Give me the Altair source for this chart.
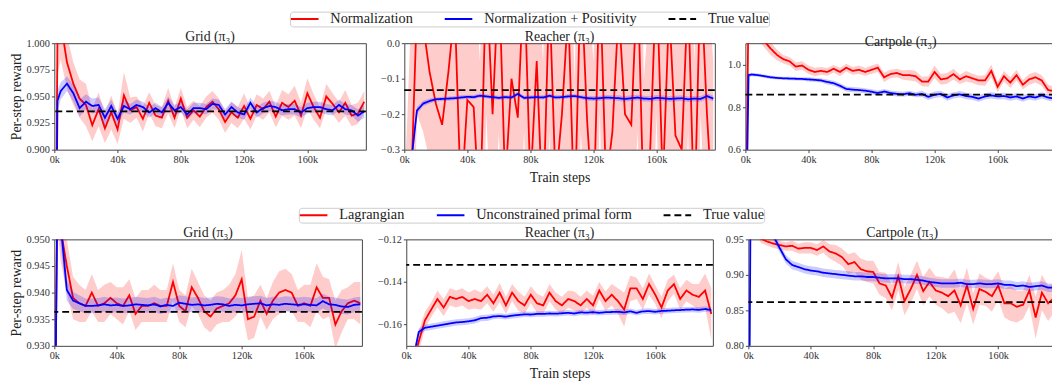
import altair as alt
import pandas as pd

FONT = "Liberation Serif"

X_STEPS = [0, 2000] + list(range(4000, 200000, 4000))
X_MAX = 197000
X_TICKS = [0, 40000, 80000, 120000, 160000]

ROW1_NAMES = ["Normalization", "Normalization + Positivity", "True value"]
ROW2_NAMES = ["Lagrangian", "Unconstrained primal form", "True value"]
PANEL_TITLES = ["Grid (\u03c0\u2083)", "Reacher (\u03c0\u2083)", "Cartpole (\u03c0\u2083)"]

# ---------------- Row 1 ----------------
GRID1_RED = [0.60, 1.01, 1.02,
             0.982, 0.962, 0.948, 0.942, 0.923, 0.938, 0.920, 0.935, 0.919, 0.951, 0.937, 0.940,
             0.929, 0.944, 0.932, 0.930, 0.946, 0.930, 0.948, 0.930, 0.937, 0.931, 0.940, 0.945,
             0.938, 0.926, 0.935, 0.930, 0.941, 0.929, 0.942, 0.938, 0.945, 0.931, 0.944, 0.940,
             0.946, 0.932, 0.953, 0.940, 0.930, 0.950, 0.943, 0.935, 0.944, 0.932, 0.934, 0.945]
GRID1_RED_HW = [0.05, 0.04, 0.035,
                0.025, 0.020, 0.018, 0.020, 0.015, 0.016, 0.014, 0.016, 0.014, 0.022, 0.012, 0.010,
                0.012, 0.010, 0.010, 0.010, 0.012, 0.010, 0.010, 0.010, 0.009, 0.010, 0.010, 0.010,
                0.010, 0.010, 0.010, 0.010, 0.012, 0.010, 0.010, 0.010, 0.010, 0.010, 0.012, 0.012,
                0.014, 0.012, 0.014, 0.012, 0.010, 0.012, 0.010, 0.010, 0.012, 0.010, 0.010, 0.010]
GRID1_BLUE = [0.60, 0.946, 0.955,
              0.962, 0.953, 0.939, 0.945, 0.941, 0.942, 0.930, 0.941, 0.929, 0.941, 0.938, 0.942,
              0.940, 0.935, 0.939, 0.935, 0.944, 0.937, 0.940, 0.933, 0.939, 0.939, 0.938, 0.943,
              0.942, 0.933, 0.940, 0.935, 0.933, 0.944, 0.935, 0.939, 0.941, 0.940, 0.937, 0.938,
              0.938, 0.935, 0.939, 0.940, 0.940, 0.938, 0.937, 0.942, 0.938, 0.937, 0.932, 0.936]
GRID1_BLUE_HW = [0.020, 0.010, 0.008,
                 0.007, 0.008, 0.008, 0.007, 0.007, 0.007, 0.008, 0.006, 0.006, 0.006, 0.005, 0.005,
                 0.005, 0.005, 0.005, 0.005, 0.006, 0.005, 0.005, 0.005, 0.005, 0.005, 0.005, 0.005,
                 0.005, 0.005, 0.005, 0.005, 0.005, 0.005, 0.005, 0.005, 0.005, 0.005, 0.005, 0.005,
                 0.005, 0.005, 0.005, 0.005, 0.005, 0.005, 0.005, 0.005, 0.005, 0.005, 0.006, 0.006]
GRID1_TRUE = 0.936

REACH1_RED = [-0.90, -0.70, -0.45,
              0.10, 0.05, -0.08, -0.17, -0.23, -0.08, 0.10, -0.45, -0.16, -0.18, -0.50, 0.20,
              -0.20, 0.20, -0.40, -0.10, -0.21, 0.20, -0.40, -0.05, -0.50, 0.15, -0.40, -0.20,
              0.10, -0.50, 0.20, -0.22, -0.50, 0.20, -0.40, -0.25, 0.10, -0.20, -0.23, 0.20,
              -0.50, -0.30, 0.20, -0.40, 0.10, -0.26, -0.30, 0.15, -0.50, 0.20, -0.20, -0.50]
REACH1_RED_HW = [0.50, 0.50, 0.50,
                 0.30, 0.30, 0.25, 0.30, 0.35, 0.40, 0.40, 0.45, 0.35, 0.40, 0.45, 0.40,
                 0.40, 0.45, 0.40, 0.35, 0.40, 0.45, 0.40, 0.35, 0.45, 0.40, 0.45, 0.40,
                 0.45, 0.40, 0.45, 0.40, 0.45, 0.40, 0.45, 0.40, 0.40, 0.45, 0.40, 0.45,
                 0.40, 0.45, 0.40, 0.45, 0.40, 0.40, 0.45, 0.40, 0.45, 0.40, 0.40, 0.45]
REACH1_BLUE = [-0.90, -0.60, -0.35,
               -0.190, -0.170, -0.163, -0.158, -0.157, -0.156, -0.155, -0.153, -0.151, -0.152, -0.148, -0.150,
               -0.152, -0.154, -0.152, -0.153, -0.143, -0.154, -0.153, -0.152, -0.153, -0.148, -0.153, -0.152,
               -0.150, -0.149, -0.152, -0.155, -0.156, -0.155, -0.153, -0.154, -0.155, -0.157, -0.155, -0.153,
               -0.156, -0.157, -0.154, -0.155, -0.157, -0.156, -0.155, -0.158, -0.156, -0.157, -0.149, -0.156]
REACH1_BLUE_HW = [0.020, 0.015, 0.012,
                  0.010, 0.008, 0.007, 0.006, 0.006, 0.006, 0.006, 0.006, 0.006, 0.006, 0.006, 0.006,
                  0.006, 0.006, 0.006, 0.006, 0.006, 0.006, 0.006, 0.006, 0.006, 0.006, 0.006, 0.006,
                  0.006, 0.006, 0.006, 0.007, 0.007, 0.007, 0.007, 0.007, 0.008, 0.008, 0.008, 0.008,
                  0.008, 0.008, 0.008, 0.008, 0.008, 0.008, 0.008, 0.008, 0.008, 0.008, 0.008, 0.008]
REACH1_TRUE = -0.132

CART1_RED = [0.00, 1.30, 1.25,
             1.150, 1.110, 1.075, 1.045, 1.025, 1.015, 0.990, 0.995, 0.975, 0.965, 0.970, 0.965,
             0.980, 0.965, 0.985, 0.970, 0.975, 0.965, 0.975, 0.985, 0.940, 0.955, 0.960, 0.950,
             0.950, 0.945, 0.920, 0.920, 0.965, 0.930, 0.935, 0.955, 0.930, 0.945, 0.935, 0.925,
             0.925, 0.970, 0.895, 0.945, 0.915, 0.950, 0.905, 0.930, 0.940, 0.925, 0.880, 0.875]
CART1_RED_HW = [0.050, 0.050, 0.040,
                0.035, 0.030, 0.030, 0.025, 0.020, 0.020, 0.020, 0.020, 0.020, 0.020, 0.018, 0.018,
                0.018, 0.020, 0.018, 0.018, 0.020, 0.018, 0.020, 0.020, 0.022, 0.020, 0.020, 0.022,
                0.025, 0.025, 0.022, 0.025, 0.030, 0.025, 0.025, 0.025, 0.022, 0.025, 0.022, 0.022,
                0.025, 0.030, 0.025, 0.025, 0.025, 0.025, 0.022, 0.025, 0.025, 0.025, 0.025, 0.020]
CART1_BLUE = [0.00, 0.950, 0.953,
              0.950, 0.945, 0.940, 0.937, 0.935, 0.934, 0.933, 0.932, 0.930, 0.928, 0.925, 0.918,
              0.912, 0.900, 0.885, 0.882, 0.880, 0.877, 0.872, 0.866, 0.873, 0.866, 0.862, 0.860,
              0.865, 0.858, 0.862, 0.848, 0.858, 0.862, 0.845, 0.855, 0.860, 0.852, 0.848, 0.840,
              0.850, 0.855, 0.850, 0.852, 0.845, 0.850, 0.840, 0.850, 0.845, 0.855, 0.845, 0.840]
CART1_BLUE_HW = [0.020, 0.010, 0.008,
                 0.008, 0.008, 0.008, 0.008, 0.008, 0.008, 0.008, 0.008, 0.010, 0.010, 0.010, 0.012,
                 0.012, 0.012, 0.012, 0.012, 0.012, 0.012, 0.012, 0.012, 0.012, 0.012, 0.012, 0.012,
                 0.012, 0.012, 0.015, 0.015, 0.015, 0.015, 0.015, 0.015, 0.015, 0.015, 0.015, 0.015,
                 0.015, 0.015, 0.015, 0.015, 0.015, 0.015, 0.015, 0.015, 0.015, 0.015, 0.015, 0.015]
CART1_TRUE = 0.859

# ---------------- Row 2 ----------------
GRID2_RED = [0.900, 0.960, 0.952,
             0.945, 0.939, 0.938, 0.9375, 0.940, 0.9375, 0.938, 0.939, 0.938, 0.9375, 0.9395, 0.936,
             0.9375, 0.9375, 0.938, 0.9375, 0.9375, 0.942, 0.9375, 0.9365, 0.941, 0.939, 0.9365, 0.9355,
             0.937, 0.9375, 0.938, 0.9395, 0.9425, 0.935, 0.9355, 0.9385, 0.936, 0.9385, 0.940, 0.9405,
             0.940, 0.9375, 0.938, 0.9375, 0.941, 0.939, 0.939, 0.934, 0.9365, 0.938, 0.9385, 0.938]
GRID2_RED_HW = [0.010, 0.008, 0.006,
                0.005, 0.004, 0.0035, 0.003, 0.0035, 0.003, 0.0035, 0.003, 0.003, 0.0035, 0.003, 0.003,
                0.003, 0.003, 0.0035, 0.003, 0.003, 0.0035, 0.003, 0.003, 0.0035, 0.003, 0.003, 0.003,
                0.003, 0.003, 0.0035, 0.004, 0.0055, 0.004, 0.004, 0.003, 0.003, 0.0035, 0.004, 0.004,
                0.0035, 0.003, 0.0035, 0.004, 0.0045, 0.004, 0.0035, 0.0045, 0.004, 0.003, 0.0035, 0.004]
GRID2_BLUE = [0.900, 0.960, 0.953,
              0.9405, 0.9385, 0.938, 0.9375, 0.9375, 0.9376, 0.9378, 0.9376, 0.9377, 0.9375, 0.9376, 0.9378,
              0.9377, 0.9376, 0.9378, 0.9374, 0.9377, 0.9375, 0.9381, 0.9379, 0.9377, 0.9378, 0.9376, 0.9377,
              0.9379, 0.9378, 0.9375, 0.9377, 0.9376, 0.9378, 0.9379, 0.9380, 0.9376, 0.9378, 0.9377, 0.9379,
              0.9378, 0.9377, 0.9378, 0.9377, 0.9376, 0.9384, 0.9378, 0.9377, 0.9374, 0.9373, 0.9377, 0.9378]
GRID2_BLUE_HW = [0.010, 0.006, 0.004,
                 0.002, 0.0016, 0.0015, 0.0014, 0.0014, 0.0014, 0.0014, 0.0014, 0.0014, 0.0014, 0.0014, 0.0014,
                 0.0014, 0.0014, 0.0014, 0.0014, 0.0014, 0.0014, 0.0014, 0.0014, 0.0014, 0.0014, 0.0014, 0.0014,
                 0.0014, 0.0014, 0.0014, 0.0014, 0.0014, 0.0014, 0.0014, 0.0014, 0.0014, 0.0014, 0.0014, 0.0014,
                 0.0014, 0.0014, 0.0014, 0.0014, 0.0014, 0.0014, 0.0014, 0.0014, 0.0014, 0.0014, 0.0014, 0.0014]
GRID2_TRUE = 0.9364

REACH2_RED = [-0.200, -0.190, -0.180,
              -0.168, -0.158, -0.153, -0.148, -0.152, -0.147, -0.148, -0.147, -0.149, -0.148, -0.149, -0.146,
              -0.150, -0.145, -0.151, -0.145, -0.149, -0.151, -0.146, -0.150, -0.151, -0.145, -0.149, -0.151,
              -0.148, -0.149, -0.151, -0.148, -0.151, -0.144, -0.149, -0.146, -0.149, -0.153, -0.143, -0.143,
              -0.148, -0.141, -0.146, -0.152, -0.144, -0.141, -0.148, -0.144, -0.146, -0.147, -0.144, -0.155]
REACH2_RED_HW = [0.010, 0.008, 0.006,
                 0.005, 0.004, 0.0035, 0.004, 0.004, 0.004, 0.004, 0.004, 0.004, 0.0045, 0.004, 0.004,
                 0.004, 0.0045, 0.004, 0.004, 0.0045, 0.004, 0.004, 0.0045, 0.004, 0.004, 0.004, 0.004,
                 0.004, 0.0045, 0.004, 0.004, 0.0045, 0.004, 0.0045, 0.005, 0.006, 0.008, 0.006, 0.005,
                 0.005, 0.005, 0.0045, 0.005, 0.005, 0.0045, 0.005, 0.005, 0.005, 0.006, 0.008, 0.012]
REACH2_BLUE = [-0.200, -0.190, -0.178,
               -0.1635, -0.1615, -0.161, -0.1605, -0.160, -0.1595, -0.159, -0.1588, -0.1585, -0.158, -0.157, -0.1568,
               -0.1562, -0.156, -0.1563, -0.1558, -0.1555, -0.1552, -0.1553, -0.155, -0.155, -0.1548, -0.1549, -0.1547,
               -0.1545, -0.1548, -0.1543, -0.1544, -0.1542, -0.1545, -0.1542, -0.1541, -0.154, -0.1543, -0.1538, -0.1545,
               -0.1538, -0.1537, -0.154, -0.1536, -0.1535, -0.1533, -0.1532, -0.153, -0.1529, -0.1531, -0.1527, -0.1532]
REACH2_BLUE_HW = [0.004, 0.003, 0.002,
                  0.0015, 0.0015, 0.0015, 0.0015, 0.0015, 0.0015, 0.0015, 0.0015, 0.0015, 0.0015, 0.0015, 0.0015,
                  0.0013, 0.0013, 0.0013, 0.0013, 0.0013, 0.0013, 0.0013, 0.0013, 0.0013, 0.0013, 0.0013, 0.0013,
                  0.0013, 0.0013, 0.0013, 0.0013, 0.0013, 0.0013, 0.0013, 0.0013, 0.0013, 0.0013, 0.0013, 0.0013,
                  0.0013, 0.0013, 0.0013, 0.0013, 0.0013, 0.0013, 0.0013, 0.0013, 0.0013, 0.0013, 0.0013, 0.0013]
REACH2_TRUE = -0.132

CART2_RED = [1.050, 1.000, 0.970,
             0.951, 0.947, 0.944, 0.942, 0.940, 0.941, 0.937, 0.938, 0.938, 0.935, 0.940, 0.933,
             0.930, 0.925, 0.915, 0.918, 0.908, 0.905, 0.904, 0.888, 0.885, 0.868, 0.898, 0.863,
             0.880, 0.900, 0.877, 0.890, 0.878, 0.875, 0.870, 0.878, 0.857, 0.885, 0.852, 0.880,
             0.876, 0.870, 0.885, 0.860, 0.860, 0.855, 0.858, 0.878, 0.840, 0.875, 0.860, 0.868]
CART2_RED_HW = [0.010, 0.010, 0.008,
                0.006, 0.006, 0.006, 0.006, 0.006, 0.007, 0.007, 0.008, 0.008, 0.008, 0.009, 0.010,
                0.012, 0.012, 0.014, 0.014, 0.015, 0.015, 0.016, 0.016, 0.018, 0.018, 0.020, 0.020,
                0.020, 0.020, 0.020, 0.020, 0.020, 0.022, 0.025, 0.030, 0.025, 0.025, 0.022, 0.022,
                0.020, 0.022, 0.020, 0.020, 0.025, 0.022, 0.020, 0.022, 0.030, 0.025, 0.025, 0.020]
CART2_BLUE = [0.500, 1.200, 1.100,
              1.020, 0.980, 0.955, 0.938, 0.922, 0.914, 0.911, 0.908, 0.906, 0.905, 0.903, 0.902,
              0.901, 0.900, 0.899, 0.898, 0.898, 0.897, 0.897, 0.896, 0.895, 0.895, 0.895, 0.894,
              0.894, 0.893, 0.892, 0.890, 0.889, 0.888, 0.888, 0.888, 0.889, 0.887, 0.887, 0.888,
              0.887, 0.887, 0.888, 0.886, 0.886, 0.884, 0.885, 0.883, 0.884, 0.885, 0.882, 0.882]
CART2_BLUE_HW = [0.010, 0.008, 0.008,
                 0.007, 0.006, 0.006, 0.006, 0.006, 0.006, 0.006, 0.006, 0.006, 0.006, 0.006, 0.006,
                 0.006, 0.006, 0.006, 0.006, 0.006, 0.006, 0.006, 0.006, 0.006, 0.006, 0.006, 0.006,
                 0.006, 0.006, 0.006, 0.006, 0.006, 0.006, 0.006, 0.006, 0.006, 0.006, 0.006, 0.006,
                 0.006, 0.006, 0.006, 0.006, 0.006, 0.006, 0.006, 0.006, 0.006, 0.006, 0.006, 0.006]
CART2_TRUE = 0.8615

RED = "#ff0000"
BLUE = "#0000ff"
BLACK = "#000000"


def series_df(mean, hw, name):
    df = pd.DataFrame({"step": X_STEPS, "mean": mean, "hw": hw})
    df["lo"] = df["mean"] - df["hw"]
    df["hi"] = df["mean"] + df["hw"]
    df["series"] = name
    return df


def make_panel(title, names, red, red_hw, blue, blue_hw, true_val,
               ydom, yticks, yfmt, width, ytitle, xtitle, legend):
    df_r = series_df(red, red_hw, names[0])
    df_b = series_df(blue, blue_hw, names[1])
    df_t = pd.DataFrame({"value": [true_val], "series": [names[2]]})

    xenc = alt.X("step:Q",
                 scale=alt.Scale(domain=[0, X_MAX], nice=False, zero=False),
                 axis=alt.Axis(values=X_TICKS, labelExpr="datum.value / 1000 + 'k'",
                               title=xtitle, labelFlush=False, titlePadding=6))
    yscale = alt.Scale(domain=ydom, nice=False, zero=False)
    yaxis = alt.Axis(values=yticks, format=yfmt, title=ytitle, labelFlush=False)

    color = alt.Color("series:N",
                      scale=alt.Scale(domain=names, range=[RED, BLUE, BLACK]),
                      legend=legend)
    dash = alt.StrokeDash("series:N",
                          scale=alt.Scale(domain=names, range=[[1, 0], [1, 0], [7, 4]]),
                          legend=legend)

    def band(df, col):
        return alt.Chart(df).mark_area(color=col, opacity=0.2, clip=True).encode(
            x=xenc, y=alt.Y("lo:Q", scale=yscale, axis=yaxis), y2="hi:Q")

    def line(df):
        return alt.Chart(df).mark_line(strokeWidth=1.8, clip=True).encode(
            x=xenc, y=alt.Y("mean:Q", scale=yscale, axis=yaxis),
            color=color, strokeDash=dash)

    rule = alt.Chart(df_t).mark_rule(strokeWidth=1.8).encode(
        y=alt.Y("value:Q", scale=yscale, axis=yaxis), color=color, strokeDash=dash)

    return alt.layer(band(df_r, RED), line(df_r), band(df_b, BLUE), line(df_b), rule).properties(
        width=width, height=108,
        title=alt.TitleParams(text=title, font=FONT, fontSize=14, fontWeight="normal",
                              color="#222222", offset=-6, frame="group"))


def make_legend(lx, ly):
    return alt.Legend(title=None, orient="none", legendX=lx, legendY=ly,
                      direction="horizontal", symbolType="stroke", symbolSize=784,
                      symbolStrokeWidth=2, labelFont=FONT, labelFontSize=14.5,
                      labelColor="#222222", labelOffset=11, columnPadding=31,
                      padding=0, clipHeight=15, strokeColor="#cccccc", fillColor="#ffffff",
                      cornerRadius=3, labelLimit=400)


leg1 = make_legend(239, -32)
leg2 = make_legend(248, -32)

r1p1 = make_panel(PANEL_TITLES[0], ROW1_NAMES, GRID1_RED, GRID1_RED_HW, GRID1_BLUE, GRID1_BLUE_HW,
                  GRID1_TRUE, [0.9, 1.0], [0.9, 0.925, 0.95, 0.975, 1.0], ".3f",
                  316, "Per-step reward", None, leg1)
r1p2 = make_panel(PANEL_TITLES[1], ROW1_NAMES, REACH1_RED, REACH1_RED_HW, REACH1_BLUE, REACH1_BLUE_HW,
                  REACH1_TRUE, [-0.3, 0.0], [-0.3, -0.2, -0.1, 0.0], ".1f",
                  315, None, "Train steps", leg1)
r1p3 = make_panel(PANEL_TITLES[2], ROW1_NAMES, CART1_RED, CART1_RED_HW, CART1_BLUE, CART1_BLUE_HW,
                  CART1_TRUE, [0.6, 1.1], [0.6, 0.8, 1.0], ".1f",
                  315, None, None, leg1)

r2p1 = make_panel(PANEL_TITLES[0], ROW2_NAMES, GRID2_RED, GRID2_RED_HW, GRID2_BLUE, GRID2_BLUE_HW,
                  GRID2_TRUE, [0.93, 0.95], [0.93, 0.935, 0.94, 0.945, 0.95], ".3f",
                  312, "Per-step reward", None, leg2)
r2p2 = make_panel(PANEL_TITLES[1], ROW2_NAMES, REACH2_RED, REACH2_RED_HW, REACH2_BLUE, REACH2_BLUE_HW,
                  REACH2_TRUE, [-0.17, -0.12], [-0.16, -0.14, -0.12], ".2f",
                  311, None, "Train steps", leg2)
r2p3 = make_panel(PANEL_TITLES[2], ROW2_NAMES, CART2_RED, CART2_RED_HW, CART2_BLUE, CART2_BLUE_HW,
                  CART2_TRUE, [0.80, 0.95], [0.80, 0.85, 0.90, 0.95], ".2f",
                  312, None, None, leg2)

row1 = alt.hconcat(r1p1, alt.hconcat(r1p2, r1p3, spacing=10), spacing=12)
row2 = alt.hconcat(r2p1, alt.hconcat(r2p2, r2p3, spacing=10), spacing=13)

chart = alt.vconcat(row1, row2, spacing=22).resolve_scale(
    color="independent", strokeDash="independent"
).properties(
    padding={"left": 0, "top": 0, "right": -6, "bottom": 0}
).configure_view(
    stroke="#444444", strokeWidth=1
).configure_axis(
    domain=False, grid=False, tickColor="#444444", tickSize=3, tickWidth=1,
    labelFont=FONT, labelFontSize=10.5, labelColor="#333333", labelPadding=2,
    titleFont=FONT, titleFontSize=14, titleFontWeight="normal", titleColor="#222222",
    titlePadding=3
)

chart.save("out.html", embed_options={"renderer": "svg", "actions": False})
